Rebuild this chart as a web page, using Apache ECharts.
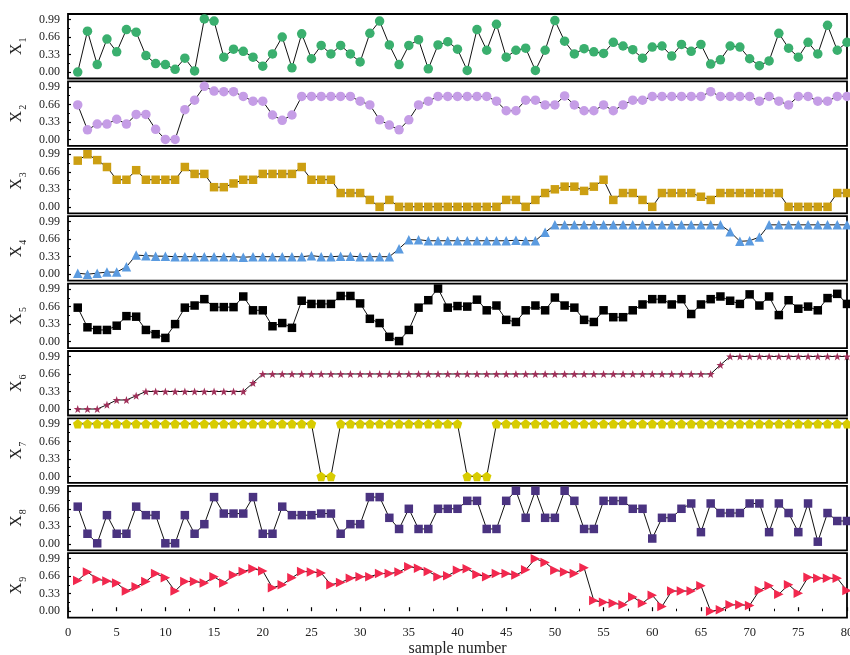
<!DOCTYPE html>
<html>
<head>
<meta charset="utf-8">
<script src="https://cdn.jsdelivr.net/npm/echarts@6/dist/echarts.min.js"></script>
<style>
  html, body { margin: 0; padding: 0; background: #fff; }
  #chart { width: 850px; height: 655px; }
</style>
</head>
<body>
<div id="chart"></div>
<script>
// sample index on the shared horizontal axis
const sampleNumber = Array.from({ length: 80 }, (_, i) => i + 1);

// y tick labels shared by every panel
const yTicks = [0, 0.33, 0.66, 0.99];
const yMinorTicks = [0.165, 0.495, 0.825];

// normalized process variables X1..X9
const X1 = [0.00,0.77,0.14,0.62,0.38,0.80,0.75,0.31,0.16,0.14,0.05,0.26,0.02,1.00,0.96,0.28,0.43,0.39,0.28,0.11,
            0.34,0.66,0.08,0.72,0.25,0.50,0.34,0.50,0.34,0.19,0.73,0.96,0.51,0.14,0.50,0.61,0.06,0.51,0.57,0.43,
            0.03,0.80,0.41,0.90,0.28,0.41,0.45,0.03,0.41,0.97,0.58,0.34,0.44,0.38,0.35,0.56,0.49,0.42,0.26,0.47,
            0.49,0.30,0.52,0.39,0.52,0.15,0.23,0.49,0.47,0.25,0.12,0.21,0.73,0.45,0.28,0.56,0.34,0.88,0.41,0.56];
const X2 = [0.65,0.18,0.29,0.29,0.38,0.29,0.47,0.47,0.19,0.00,0.00,0.56,0.74,1.00,0.91,0.90,0.90,0.81,0.72,0.72,
            0.46,0.36,0.46,0.81,0.81,0.81,0.81,0.81,0.81,0.72,0.65,0.37,0.27,0.18,0.37,0.65,0.72,0.81,0.81,0.81,
            0.81,0.81,0.81,0.72,0.54,0.54,0.74,0.74,0.65,0.65,0.82,0.65,0.54,0.54,0.65,0.54,0.65,0.74,0.74,0.81,
            0.81,0.81,0.81,0.81,0.81,0.90,0.81,0.81,0.81,0.81,0.72,0.81,0.72,0.65,0.81,0.81,0.72,0.72,0.81,0.81];
const X3 = [0.87,0.99,0.88,0.75,0.51,0.51,0.69,0.51,0.51,0.51,0.51,0.75,0.62,0.62,0.37,0.37,0.44,0.51,0.51,0.62,
            0.62,0.62,0.62,0.75,0.51,0.51,0.51,0.26,0.26,0.26,0.13,0.00,0.13,0.00,0.00,0.00,0.00,0.00,0.00,0.00,
            0.00,0.00,0.00,0.00,0.13,0.13,0.00,0.13,0.26,0.33,0.38,0.38,0.30,0.38,0.51,0.13,0.26,0.26,0.13,0.00,
            0.26,0.26,0.26,0.26,0.19,0.13,0.26,0.26,0.26,0.26,0.26,0.26,0.26,0.00,0.00,0.00,0.00,0.00,0.26,0.26];
const X4 = [0.02,0.00,0.02,0.04,0.04,0.14,0.36,0.35,0.34,0.34,0.33,0.33,0.33,0.33,0.33,0.33,0.33,0.32,0.33,0.33,
            0.33,0.33,0.33,0.33,0.35,0.33,0.33,0.34,0.34,0.33,0.33,0.33,0.33,0.48,0.65,0.65,0.63,0.63,0.63,0.63,
            0.63,0.63,0.63,0.63,0.63,0.64,0.63,0.63,0.79,0.93,0.93,0.93,0.93,0.93,0.93,0.93,0.93,0.93,0.93,0.93,
            0.93,0.93,0.93,0.93,0.93,0.93,0.93,0.80,0.62,0.63,0.70,0.93,0.93,0.93,0.93,0.93,0.93,0.93,0.93,0.93];
const X5 = [0.64,0.27,0.22,0.22,0.30,0.48,0.47,0.22,0.14,0.07,0.33,0.64,0.68,0.80,0.65,0.65,0.65,0.85,0.59,0.59,
            0.29,0.35,0.26,0.77,0.71,0.71,0.71,0.86,0.86,0.72,0.43,0.35,0.09,0.01,0.22,0.64,0.78,1.00,0.64,0.67,
            0.66,0.79,0.59,0.68,0.41,0.37,0.59,0.68,0.59,0.83,0.68,0.64,0.41,0.37,0.59,0.46,0.46,0.59,0.70,0.80,
            0.80,0.70,0.80,0.52,0.70,0.80,0.85,0.77,0.71,0.89,0.68,0.85,0.50,0.78,0.62,0.66,0.59,0.82,0.90,0.71];
const X6 = [0.00,0.00,0.00,0.08,0.17,0.17,0.25,0.33,0.33,0.33,0.33,0.33,0.33,0.33,0.33,0.33,0.33,0.33,0.49,0.66,
            0.66,0.66,0.66,0.66,0.66,0.66,0.66,0.66,0.66,0.66,0.66,0.66,0.66,0.66,0.66,0.66,0.66,0.66,0.66,0.66,
            0.66,0.66,0.66,0.66,0.66,0.66,0.66,0.66,0.66,0.66,0.66,0.66,0.66,0.66,0.66,0.66,0.66,0.66,0.66,0.66,
            0.66,0.66,0.66,0.66,0.66,0.66,0.83,0.99,0.99,0.99,0.99,0.99,0.99,0.99,0.99,0.99,0.99,0.99,0.99,0.99];
const X7 = [0.99,0.99,0.99,0.99,0.99,0.99,0.99,0.99,0.99,0.99,0.99,0.99,0.99,0.99,0.99,0.99,0.99,0.99,0.99,0.99,
            0.99,0.99,0.99,0.99,0.99,0.00,0.00,0.99,0.99,0.99,0.99,0.99,0.99,0.99,0.99,0.99,0.99,0.99,0.99,0.99,
            0.00,0.00,0.00,0.99,0.99,0.99,0.99,0.99,0.99,0.99,0.99,0.99,0.99,0.99,0.99,0.99,0.99,0.99,0.99,0.99,
            0.99,0.99,0.99,0.99,0.99,0.99,0.99,0.99,0.99,0.99,0.99,0.99,0.99,0.99,0.99,0.99,0.99,0.99,0.99,0.99];
const X8 = [0.70,0.19,0.01,0.54,0.19,0.19,0.70,0.54,0.54,0.01,0.01,0.54,0.19,0.37,0.88,0.57,0.57,0.57,0.88,0.19,
            0.19,0.70,0.54,0.54,0.54,0.57,0.57,0.19,0.37,0.37,0.88,0.88,0.49,0.28,0.66,0.28,0.28,0.66,0.66,0.66,
            0.81,0.81,0.28,0.28,0.81,1.00,0.49,1.00,0.49,0.49,1.00,0.81,0.28,0.28,0.81,0.81,0.81,0.66,0.66,0.10,
            0.49,0.49,0.66,0.76,0.22,0.76,0.58,0.58,0.58,0.76,0.76,0.22,0.76,0.58,0.22,0.76,0.04,0.58,0.43,0.43];
const X9 = [0.58,0.74,0.60,0.57,0.53,0.38,0.46,0.56,0.71,0.63,0.38,0.56,0.56,0.53,0.65,0.53,0.68,0.75,0.80,0.76,
            0.44,0.50,0.63,0.75,0.74,0.72,0.50,0.54,0.62,0.65,0.65,0.71,0.71,0.74,0.84,0.81,0.75,0.65,0.67,0.77,
            0.80,0.69,0.65,0.71,0.71,0.68,0.78,0.99,0.92,0.77,0.74,0.71,0.82,0.20,0.17,0.15,0.12,0.27,0.15,0.30,
            0.09,0.38,0.38,0.38,0.48,0.00,0.03,0.12,0.12,0.11,0.39,0.48,0.32,0.50,0.34,0.64,0.62,0.62,0.62,0.39];

const STAR = 'path://M10,0 L12.4,7 L19.5,7 L13.8,11.5 L15.9,18.5 L10,14.2 L4.1,18.5 L6.2,11.5 L0.5,7 L7.6,7 Z';
const PENTAGON = 'path://M10,0 L19.5,6.9 L15.9,18.1 L4.1,18.1 L0.5,6.9 Z';

const panels = [
  { sub: '1', values: X1, symbol: 'circle',   size: 9.5, rotate: 0,   color: '#3aaf6e' },
  { sub: '2', values: X2, symbol: 'circle',   size: 9.5, rotate: 0,   color: '#c59de6' },
  { sub: '3', values: X3, symbol: 'rect',     size: 8.5, rotate: 0,   color: '#cc9f12' },
  { sub: '4', values: X4, symbol: 'triangle', size: 9.5, rotate: 0,   color: '#5b9be0' },
  { sub: '5', values: X5, symbol: 'rect',     size: 8.5, rotate: 0,   color: '#000000' },
  { sub: '6', values: X6, symbol: STAR,       size: 8,   rotate: 0,   color: '#a0305a' },
  { sub: '7', values: X7, symbol: PENTAGON,   size: 9.5, rotate: 0,   color: '#d8cc00' },
  { sub: '8', values: X8, symbol: 'rect',     size: 8.5, rotate: 0,   color: '#4a3380' },
  { sub: '9', values: X9, symbol: 'triangle', size: 9.5, rotate: -90, color: '#f2284e' }
];

const FONT = '"Liberation Serif", "Times New Roman", serif';
const TOP0 = 14, STEP = 67.4, H = 64.5;
const Y_MIN = -0.122, Y_MAX = 1.093;

const grid = [], xAxis = [], yAxis = [], series = [];
panels.forEach((p, k) => {
  const last = k === panels.length - 1;
  grid.push({
    left: 68, right: 3, top: TOP0 + STEP * k, height: H,
    outerBoundsMode: 'none', containLabel: false,
    show: true, borderColor: '#000', borderWidth: 1.8, backgroundColor: 'transparent'
  });
  xAxis.push({
    type: 'value', gridIndex: k, min: 0, max: 80, interval: 5,
    axisLine: { show: false },
    splitLine: { show: false },
    axisTick: { show: last, inside: true, length: 4, lineStyle: { color: '#000', width: 1.2 } },
    minorTick: { show: last, splitNumber: 2, length: 2.5, lineStyle: { color: '#000', width: 1 } },
    axisLabel: { show: last, margin: 9, fontFamily: FONT, fontSize: 12.5, color: '#222', hideOverlap: false },
    name: last ? 'sample number' : '',
    nameLocation: 'middle', nameGap: 22,
    nameTextStyle: { fontFamily: FONT, fontSize: 16, color: '#222', verticalAlign: 'top' }
  });
  yAxis.push({
    type: 'value', gridIndex: k, min: Y_MIN, max: Y_MAX,
    axisLine: { show: false },
    splitLine: { show: false },
    axisTick: { show: true, inside: true, length: 3, customValues: yTicks, lineStyle: { color: '#000', width: 1.2 } },
    axisLabel: {
      show: true, margin: 8, customValues: yTicks, fontFamily: FONT, fontSize: 12, color: '#222',
      formatter: v => v.toFixed(2)
    },
    name: '{x|X}{s|' + p.sub + '}',
    nameLocation: 'middle', nameRotate: 90, nameGap: 40,
    nameTextStyle: {
      rich: {
        x: { fontFamily: FONT, fontSize: 16, color: '#222', verticalAlign: 'top', lineHeight: 16 },
        s: { fontFamily: FONT, fontSize: 10, color: '#222', verticalAlign: 'top', lineHeight: 10, padding: [9, 0, 0, 1] }
      }
    }
  });
  // minor ticks midway between labelled values
  yAxis.push({
    type: 'value', gridIndex: k, min: Y_MIN, max: Y_MAX, position: 'left',
    axisLine: { show: false }, splitLine: { show: false }, axisLabel: { show: false },
    axisTick: { show: true, inside: true, length: 2, customValues: yMinorTicks, lineStyle: { color: '#000', width: 1 } }
  });
  series.push({
    type: 'line', xAxisIndex: k, yAxisIndex: 2 * k,
    data: sampleNumber.map((n, i) => [n, p.values[i]]),
    symbol: p.symbol, symbolSize: p.size, symbolRotate: p.rotate,
    showAllSymbol: true, clip: false,
    lineStyle: { color: '#111', width: 1 },
    itemStyle: { color: p.color, borderWidth: 0 },
    emphasis: { disabled: true },
    z: 3
  });
});

const chart = echarts.init(document.getElementById('chart'), null, { renderer: 'canvas' });
chart.setOption({
  animation: false,
  backgroundColor: '#fff',
  grid, xAxis, yAxis, series
});
</script>
</body>
</html>
